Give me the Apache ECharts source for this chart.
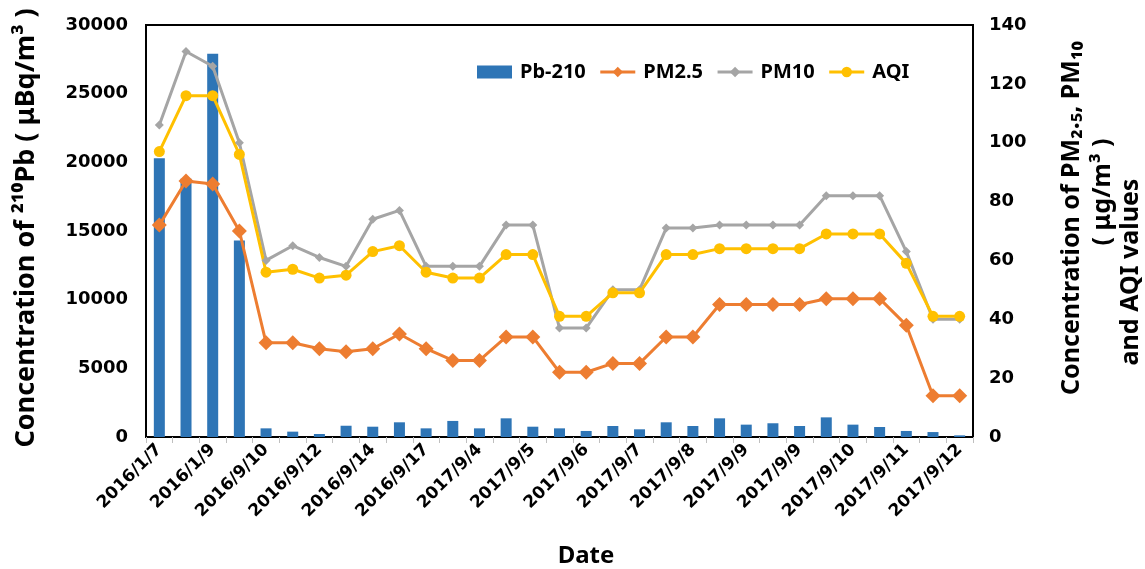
<!DOCTYPE html>
<html>
<head>
<meta charset="utf-8">
<script src="https://cdn.jsdelivr.net/npm/echarts@6/dist/echarts.min.js"></script>
<style>html,body{margin:0;padding:0;background:#fff}#c{width:1145px;height:569px}</style>
</head>
<body>
<div id="c"></div>
<script>
// ---- data ----
const categories = [
  '2016/1/7','', '2016/1/9','', '2016/9/10','', '2016/9/12','', '2016/9/14','', '2016/9/17','',
  '2017/9/4','', '2017/9/5','', '2017/9/6','', '2017/9/7','', '2017/9/8','', '2017/9/9','',
  '2017/9/9','', '2017/9/10','', '2017/9/11','', '2017/9/12'
];
const pb210 = [20300, 18800, 27900, 14300, 630, 390, 220, 820, 750, 1070, 630, 1170, 630, 1360, 750, 630,
  440, 800, 560, 1070, 800, 1360, 900, 1000, 800, 1430, 900, 730, 440, 360, 120];
const pm25 = [72, 87, 86, 70, 32, 32, 30, 29, 30, 35, 30, 26, 26, 34, 34, 22,
  22, 25, 25, 34, 34, 45, 45, 45, 45, 47, 47, 47, 38, 14, 14];
const pm10 = [106, 131, 126, 100, 60, 65, 61, 58, 74, 77, 58, 58, 58, 72, 72, 37,
  37, 50, 50, 71, 71, 72, 72, 72, 72, 82, 82, 82, 63, 40, 40];
const aqi = [97, 116, 116, 96, 56, 57, 54, 55, 63, 65, 56, 54, 54, 62, 62, 41,
  41, 49, 49, 62, 62, 64, 64, 64, 64, 69, 69, 69, 59, 41, 41];
const leftTicks = {min: 0, max: 30000, interval: 5000};
const rightTicks = {min: 0, max: 140, interval: 20};

const TICKFONT = 'DejaVu Sans';
const TITLEFONT = 'Noto Sans';
const titleStyle = {fontFamily: TITLEFONT, fontWeight: 'bold', fontSize: 25, fill: '#000', align: 'center', verticalAlign: 'middle'};
const chart = echarts.init(document.getElementById('c'));
chart.setOption({
  animation: false,
  backgroundColor: '#fff',
  textStyle: {fontFamily: TICKFONT, fontWeight: 'bold', color: '#000'},
  grid: {left: 146, right: 172, top: 25, bottom: 132, outerBoundsMode: 'none', containLabel: false,
    show: true, borderColor: '#000', borderWidth: 2, backgroundColor: 'transparent'},
  legend: {
    left: 477, top: 62, padding: 0, itemGap: 13, itemWidth: 35, itemHeight: 13,
    lineStyle: {width: 3},
    textStyle: {fontFamily: TITLEFONT, fontWeight: 'bold', fontSize: 20, color: '#000', padding: [0, 0, 0, 3]},
    data: [{name: 'Pb-210', icon: 'rect'}, 'PM2.5', 'PM10', 'AQI']
  },
  xAxis: {
    type: 'category', data: categories,
    axisLine: {lineStyle: {color: '#000', width: 2}},
    axisTick: {show: true, interval: 0, length: 6, lineStyle: {color: '#bfbfbf', width: 1}},
    axisLabel: {interval: 1, rotate: 45, margin: 10, fontFamily: TICKFONT, fontWeight: 'bold', fontSize: 17, color: '#000'},
    splitLine: {show: false}
  },
  yAxis: [{
    type: 'value', min: leftTicks.min, max: leftTicks.max, interval: leftTicks.interval,
    axisLine: {show: true, lineStyle: {color: '#000', width: 2}},
    axisTick: {show: false},
    splitLine: {show: false},
    axisLabel: {margin: 18, fontFamily: TICKFONT, fontWeight: 'bold', fontSize: 18, color: '#000',
      formatter: v => String(v)}
  }, {
    type: 'value', min: rightTicks.min, max: rightTicks.max, interval: rightTicks.interval,
    position: 'right',
    axisLine: {show: true, lineStyle: {color: '#000', width: 2}},
    axisTick: {show: false},
    splitLine: {show: false},
    axisLabel: {margin: 16, fontFamily: TICKFONT, fontWeight: 'bold', fontSize: 18, color: '#000',
      formatter: v => String(v)}
  }],
  graphic: [
    {type: 'text', x: 26, y: 228, rotation: Math.PI / 2,
      style: Object.assign({}, titleStyle, {text: 'Concentration of \u00b2\u00b9\u2070Pb ( \u03bcBq/m\u00b3 )', fontSize: 27})},
    {type: 'text', x: 1072, y: 218, rotation: Math.PI / 2,
      style: Object.assign({}, titleStyle, {text: 'Concentration of PM\u2082.\u2085, PM\u2081\u2080'})},
    {type: 'text', x: 1103, y: 192, rotation: Math.PI / 2,
      style: Object.assign({}, titleStyle, {text: '( \u03bcg/m\u00b3 )'})},
    {type: 'text', x: 1131, y: 272, rotation: Math.PI / 2,
      style: Object.assign({}, titleStyle, {text: 'and AQI values'})},
    {type: 'text', x: 586, y: 556,
      style: Object.assign({}, titleStyle, {text: 'Date', fontSize: 24})}
  ],
  series: [
    {name: 'Pb-210', type: 'bar', data: pb210, barWidth: 11, yAxisIndex: 0, itemStyle: {color: '#2E75B6'}},
    {name: 'PM2.5', type: 'line', data: pm25, yAxisIndex: 1, symbol: 'diamond', symbolSize: 15,
      lineStyle: {color: '#ED7D31', width: 3}, itemStyle: {color: '#ED7D31'}},
    {name: 'PM10', type: 'line', data: pm10, yAxisIndex: 1, symbol: 'diamond', symbolSize: 9,
      lineStyle: {color: '#A5A5A5', width: 3}, itemStyle: {color: '#A5A5A5'}},
    {name: 'AQI', type: 'line', data: aqi, yAxisIndex: 1, symbol: 'circle', symbolSize: 11,
      lineStyle: {color: '#FFC000', width: 3}, itemStyle: {color: '#FFC000'}}
  ]
});
</script>
</body>
</html>
